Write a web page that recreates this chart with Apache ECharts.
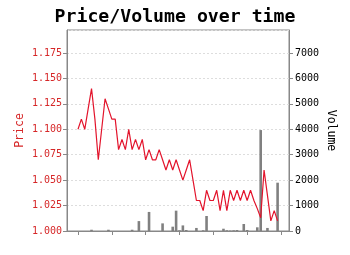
<!DOCTYPE html>
<html><head><meta charset="utf-8">
<script src="https://cdn.jsdelivr.net/npm/echarts@6/dist/echarts.min.js"></script>
<style>html,body{margin:0;padding:0;background:#fff}#c{width:350px;height:255px}</style>
</head><body><div id="c"></div>
<script>
const titleText = 'Price/Volume over time';
const timeIndex = [0,1,2,3,4,5,6,7,8,9,10,11,12,13,14,15,16,17,18,19,20,21,22,23,24,25,26,27,28,29,30,31,32,33,34,35,36,37,38,39,40,41,42,43,44,45,46,47,48,49,50,51,52,53,54,55,56,57,58,59];
const price = [1.10,1.11,1.10,1.12,1.14,1.11,1.07,1.10,1.13,1.12,1.11,1.11,1.08,1.09,1.08,1.10,1.08,1.09,1.08,1.09,
  1.07,1.08,1.07,1.07,1.08,1.07,1.06,1.07,1.06,1.07,1.06,1.05,1.06,1.07,1.05,1.03,1.03,1.02,1.04,1.03,
  1.03,1.04,1.02,1.04,1.02,1.04,1.03,1.04,1.03,1.04,1.03,1.04,1.03,1.022,1.013,1.06,1.035,1.01,1.02,1.01];
const volume = [0,0,0,0,50,0,0,0,0,50,0,0,0,0,0,0,50,0,390,0,
  0,750,0,0,0,300,0,0,170,800,30,220,40,0,0,120,0,30,590,0,
  0,0,0,90,30,20,30,40,0,275,40,0,0,145,3970,0,120,0,0,1900];
const priceTicks = [1.000,1.025,1.050,1.075,1.100,1.125,1.150,1.175];
const volumeTicks = [0,1000,2000,3000,4000,5000,6000,7000];
const xTicks = [0,10,20,30,40,50,60];

const font = '"DejaVu Sans Mono", monospace';
const chart = echarts.init(document.getElementById('c'), null, {renderer:'canvas'});
chart.setOption({
  animation:false,
  backgroundColor:'#fff',
  title:{text:titleText,left:'center',top:3,textStyle:{fontFamily:font,fontSize:18.2,fontWeight:'bold',color:'#000'}},
  grid:{left:67,right:61,top:30,bottom:24,show:true,borderColor:'#888',borderWidth:1,backgroundColor:'transparent'},
  xAxis:{type:'value',min:-3.25,max:62.37,
    axisLine:{show:true,onZero:false,lineStyle:{color:'#888'}},
    axisTick:{show:true,length:4,lineStyle:{color:'#888'},customValues:xTicks},
    axisLabel:{show:false},splitLine:{show:false}},
  yAxis:[
    {type:'value',min:1.0,max:1.1976,interval:0.025,position:'left',
     name:'Price',nameLocation:'middle',nameGap:41,nameRotate:90,nameMoveOverlap:false,
     nameTextStyle:{fontFamily:font,fontSize:11.5,color:'#d62728'},
     axisLine:{show:true,onZero:false,lineStyle:{color:'#888'}},
     axisTick:{show:true,length:4,lineStyle:{color:'#888'}},
     axisLabel:{showMaxLabel:false,fontFamily:font,fontSize:10,color:'#d62728',margin:5,
       formatter:v=>priceTicks.some(t=>Math.abs(t-v)<1e-6)?v.toFixed(3):''},
     splitLine:{show:true,lineStyle:{color:'#ddd',type:[2,2],width:1}}},
    {type:'value',min:0,max:7905,interval:1000,position:'right',
     name:'Volume',nameLocation:'middle',nameGap:36,nameRotate:-90,nameMoveOverlap:false,
     nameTextStyle:{fontFamily:font,fontSize:11.5,color:'#000'},
     axisLine:{show:true,onZero:false,lineStyle:{color:'#888'}},
     axisTick:{show:true,length:4,lineStyle:{color:'#888'}},
     axisLabel:{showMaxLabel:false,fontFamily:font,fontSize:10,color:'#000',margin:6,
       formatter:v=>volumeTicks.includes(v)?String(v):''},
     splitLine:{show:false}}
  ],
  series:[
    {type:'bar',yAxisIndex:1,barWidth:2.6,itemStyle:{color:'#808080'},
     data:timeIndex.map((t,i)=>[t,volume[i]]),z:1},
    {type:'line',yAxisIndex:0,symbol:'none',lineStyle:{color:'#e3142c',width:1.2},
     data:timeIndex.map((t,i)=>[t,price[i]]),z:3}
  ]
});
</script></body></html>
